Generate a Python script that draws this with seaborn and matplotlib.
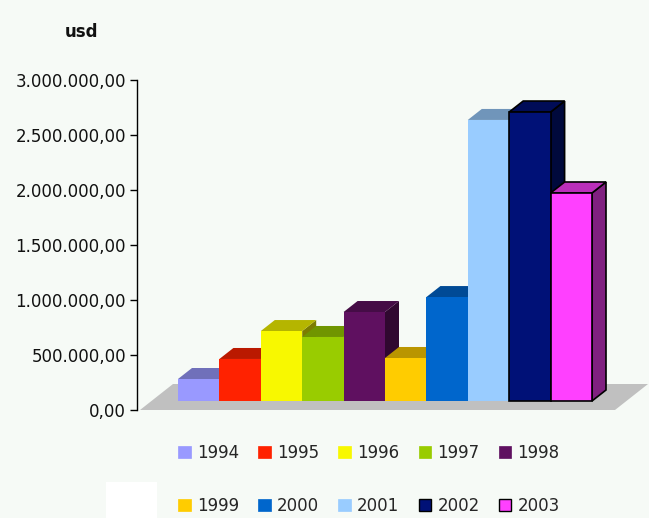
import numpy as np
import pandas as pd
import seaborn as sns
import matplotlib.pyplot as plt
from matplotlib.colors import to_rgb
from matplotlib.patches import Patch, Polygon, Rectangle
from matplotlib.ticker import FuncFormatter
from matplotlib import transforms

years = ['1994', '1995', '1996', '1997', '1998', '1999', '2000', '2001', '2002', '2003']
usd = [200000, 382000, 636000, 582000, 809000, 391000, 945000, 2555000, 2627000, 1891000]
colors = ['#9999FF', '#FF2200', '#F8F800', '#99CC00', '#5F1060',
          '#FFCC00', '#0066CC', '#99CCFF', '#001177', '#FF40FF']
outlined = ['2002', '2003']

BG = '#F6FAF6'
W, H = 649, 518
px_per_bar = 41.4
bar_left_px = 178
axis_x_px, zero_y_px, top_y_px = 137, 410, 80

sns.set_theme(style='white')
plt.rcParams['font.family'] = ['DejaVu Sans']

fig = plt.figure(figsize=(W / 100, H / 100), dpi=100, facecolor=BG)
ax = fig.add_axes([axis_x_px / W, (H - zero_y_px) / H, (W - axis_x_px) / W, (zero_y_px - top_y_px) / H])
ax.set_facecolor('none')

df = pd.DataFrame({'year': years, 'usd': usd})
sns.barplot(data=df, x='year', y='usd', hue='year', palette=dict(zip(years, colors)),
            legend=False, width=1.0, saturation=1, ax=ax)

x_lo = -0.5 - (bar_left_px - axis_x_px) / px_per_bar
x_hi = x_lo + (W - axis_x_px) / px_per_bar
ax.set_xlim(x_lo, x_hi)
ax.set_ylim(0, 3000000)
unit_per_px = 3000000 / (zero_y_px - top_y_px)

# 3d depth of bars, in data units
dx = 14 / px_per_bar
dy = 11 * unit_per_px
lift = transforms.offset_copy(ax.transData, fig=fig, x=0, y=9, units='dots')

# grey floor
fdx = 33 / px_per_bar
fdy = 26 * unit_per_px
fl = x_lo + 3 / px_per_bar
fr = x_lo + (615 - axis_x_px) / px_per_bar
ax.add_patch(Polygon([(fl, 0), (fr, 0), (fr + fdx, fdy), (fl + fdx, fdy)],
                     closed=True, facecolor='#C0C0C0', edgecolor='none', zorder=0.5, clip_on=False))


def shade(c, k):
    r, g, b = to_rgb(c)
    return (r * k, g * k, b * k)


for p in ax.patches:
    if isinstance(p, Polygon):
        continue
    i = int(round(p.get_x() + p.get_width() / 2))
    x0, x1, h = p.get_x(), p.get_x() + p.get_width(), p.get_height()
    col = colors[i]
    edge = 'black' if years[i] in outlined else 'none'
    lw = 1.2 if years[i] in outlined else 0
    p.set_transform(lift)
    p.set_zorder(3 * i + 3)
    p.set_edgecolor(edge)
    p.set_linewidth(lw)
    side = Polygon([(x1, 0), (x1 + dx, dy), (x1 + dx, h + dy), (x1, h)], closed=True,
                   facecolor=shade(col, 0.5), edgecolor=edge, linewidth=lw,
                   transform=lift, zorder=3 * i + 1, clip_on=False)
    top = Polygon([(x0, h), (x1, h), (x1 + dx, h + dy), (x0 + dx, h + dy)], closed=True,
                  facecolor=shade(col, 0.73), edgecolor=edge, linewidth=lw,
                  transform=lift, zorder=3 * i + 2, clip_on=False)
    ax.add_patch(side)
    ax.add_patch(top)
    p.set_clip_on(False)

# axis styling
for s in ['top', 'right', 'bottom']:
    ax.spines[s].set_visible(False)
ax.spines['left'].set_color('black')
ax.spines['left'].set_linewidth(1.0)
ax.set_xticks([])
ax.set_yticks(np.arange(0, 3000001, 500000))
ax.yaxis.set_major_formatter(FuncFormatter(
    lambda v, pos: f'{v:,.2f}'.replace(',', 'X').replace('.', ',').replace('X', '.')))
ax.tick_params(axis='y', which='major', left=True, length=5, width=1, color='black',
               pad=3, labelsize=12, labelcolor='#111111')
ax.set_xlabel('')
ax.set_ylabel('')

fig.text(65 / W, 1 - 32 / H, 'usd', fontsize=12, fontweight='bold', va='center', ha='left', color='#111111')

# white box at bottom left
fig.patches.append(Rectangle((106 / W, 0), 51 / W, 36 / H, transform=fig.transFigure,
                             facecolor='white', edgecolor='none'))

# legend: two rows of five, row-major
handles = []
for y, c in zip(years, colors):
    ec = 'black' if y in outlined else shade(c, 1.0)
    handles.append(Patch(facecolor=c, edgecolor=ec, linewidth=1.0 if y in outlined else 0.5))
order = [0, 5, 1, 6, 2, 7, 3, 8, 4, 9]
fig.legend([handles[k] for k in order], [years[k] for k in order], ncol=5,
           loc='upper left', bbox_to_anchor=(178 / W, 1 - 444 / H), frameon=False,
           fontsize=12, handlelength=0.75, handleheight=0.75, handletextpad=0.38,
           columnspacing=1.15, labelspacing=2.1, borderpad=0, borderaxespad=0)

fig.savefig('out.png', dpi=100, facecolor=BG)
